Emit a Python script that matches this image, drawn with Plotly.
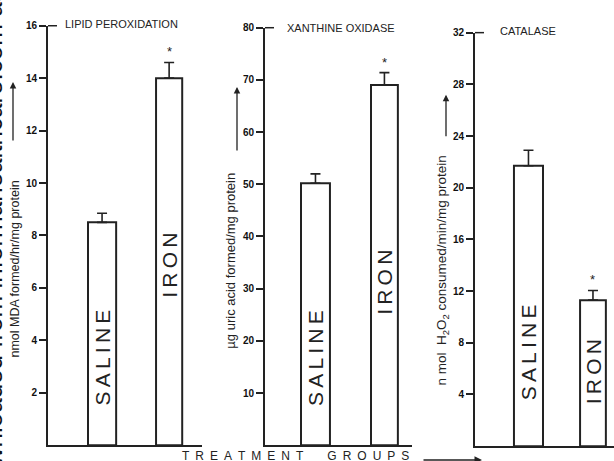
import plotly.graph_objects as go

# ---------------- data ----------------
groups = ["SALINE", "IRON"]
lipid_vals = [8.5, 14.0]
lipid_err = [0.35, 0.6]
xo_vals = [50.2, 69.0]
xo_err = [1.8, 2.4]
cat_vals = [21.7, 11.3]
cat_err = [1.2, 0.75]
significant = [False, True]

titles = ["LIPID PEROXIDATION", "XANTHINE OXIDASE", "CATALASE"]
ytitles = ["nmol MDA formed/hr/mg protein",
           "µg uric acid formed/mg protein",
           "n mol  H<sub>2</sub>O<sub>2</sub> consumed/min/mg protein"]
ymax = [16, 80, 32]
ydtick = [2, 10, 4]

W, H = 614, 461
def px(x): return x / W
def py(y): return 1 - y / H

FONT = "Liberation Sans"

def spaced(s, sep="\u2009"):
    return sep.join(list(s))

# layout geometry (pixels)
geo = [
    dict(x0=48, x1=202, yb=445, yt=20, xr=[-0.806, 1.49], bw=[0.42, 0.39],
         lab=[3.35, 6.85], tx=63, ty=18, ytx=15, yty=267, yfs=12.5,
         arx=13, ary0=137, ary1=77),
    dict(x0=265, x1=412, yb=445, yt=22, xr=[-0.732, 1.40], bw=[0.42, 0.39],
         lab=[16.8, 31.2], tx=285, ty=22, ytx=231, yty=258, yfs=13,
         arx=237, ary0=147, ary1=82),
    dict(x0=475, x1=614, yb=446, yt=27, xr=[-0.829, 1.326], bw=[0.45, 0.40],
         lab=[7.3, 5.8], tx=498, ty=25, ytx=443, yty=268, yfs=13.5,
         arx=446, ary0=133, ary1=90),
]

vals = [lipid_vals, xo_vals, cat_vals]
errs = [lipid_err, xo_err, cat_err]

fig = go.Figure()
annotations = []
shapes = []
layout = {}

for i in range(3):
    g = geo[i]
    xa = "x" if i == 0 else f"x{i+1}"
    ya = "y" if i == 0 else f"y{i+1}"
    xk = "xaxis" if i == 0 else f"xaxis{i+1}"
    yk = "yaxis" if i == 0 else f"yaxis{i+1}"
    fig.add_trace(go.Bar(
        x=groups, y=vals[i], width=g["bw"], xaxis=xa, yaxis=ya,
        marker=dict(color="white", line=dict(color="#222", width=2)),
        error_y=dict(type="data", symmetric=False, array=errs[i],
                     arrayminus=[0, 0], width=5, thickness=1.6, color="#222"),
        showlegend=False, hoverinfo="skip"))
    layout[xk] = dict(domain=[px(g["x0"]), px(g["x1"])], range=g["xr"],
                      showline=True, linecolor="#222", linewidth=2,
                      showticklabels=False, ticks="", showgrid=False,
                      zeroline=False, anchor=ya, fixedrange=True,
                      categoryorder="array", categoryarray=groups)
    layout[yk] = dict(domain=[py(g["yb"]), py(g["yt"])], range=[0, ymax[i]],
                      tickvals=list(range(ydtick[i], ymax[i] + 1, ydtick[i])),
                      showline=True, linecolor="#222", linewidth=2,
                      ticks="outside", ticklen=7, tickwidth=1.5, tickcolor="#222",
                      tickfont=dict(family=FONT, size=10, color="#111", weight="bold"),
                      showgrid=False, zeroline=False, anchor=xa, fixedrange=True)
    # top tick to the right
    shapes.append(dict(type="line", xref="paper", yref="paper",
                       x0=px(g["x0"]), x1=px(g["x0"] + 9),
                       y0=py(g["yt"]), y1=py(g["yt"]),
                       line=dict(color="#222", width=1.5)))
    # title
    annotations.append(dict(text=titles[i], xref="paper", yref="paper",
                            x=px(g["tx"]), y=py(g["ty"]), xanchor="left",
                            yanchor="middle", showarrow=False,
                            font=dict(family=FONT, size=11, color="#222")))
    # y title
    annotations.append(dict(text=ytitles[i], xref="paper", yref="paper",
                            x=px(g["ytx"]), y=py(g["yty"]), xanchor="center",
                            yanchor="middle", textangle=-90, showarrow=False,
                            font=dict(family=FONT, size=g["yfs"], color="#222")))
    # arrow
    annotations.append(dict(text="", xref="paper", yref="paper",
                            x=px(g["arx"]), y=py(g["ary1"]),
                            ax=0, ay=g["ary0"] - g["ary1"], showarrow=True,
                            arrowhead=2, arrowsize=1, arrowwidth=1.3,
                            arrowcolor="#222"))
    # labels inside bars + asterisks
    for j, grp in enumerate(groups):
        annotations.append(dict(text=spaced(grp), xref=xa, yref=ya, x=grp,
                                y=g["lab"][j], textangle=-90, showarrow=False,
                                font=dict(family=FONT, size=21, color="#222")))
        if significant[j]:
            annotations.append(dict(text="*", xref=xa, yref=ya, x=grp,
                                    y=vals[i][j] + errs[i][j], yanchor="bottom",
                                    yshift=1, showarrow=False,
                                    font=dict(family=FONT, size=13, color="#222")))

# bottom text and arrow
annotations.append(dict(text=spaced("TREATMENT", "\u2002") + "\u2003\u2003" + spaced("GROUPS", "\u2002"),
                        xref="paper", yref="paper", x=px(180), y=py(456),
                        xanchor="left", yanchor="middle", showarrow=False,
                        font=dict(family=FONT, size=12, color="#222")))
annotations.append(dict(text="", xref="paper", yref="paper",
                        x=px(482), y=py(460), ax=-60, ay=0, showarrow=True,
                        arrowhead=2, arrowwidth=1.5, arrowcolor="#222"))
# clipped watermark on the left edge
annotations.append(dict(text="Downloaded from informahealthcare.com at 14:30 on",
                        xref="paper", yref="paper", x=0, y=py(190),
                        xanchor="center", yanchor="middle", xshift=-7,
                        textangle=-90, showarrow=False,
                        font=dict(family=FONT, size=26, color="#111")))

fig.update_layout(width=W, height=H, margin=dict(l=0, r=0, t=0, b=0),
                  paper_bgcolor="white", plot_bgcolor="white",
                  annotations=annotations, shapes=shapes, **layout)

fig.write_html("out.html", config={"displayModeBar": False},
               post_script="document.body.style.margin='0px';document.body.style.overflow='hidden';")
